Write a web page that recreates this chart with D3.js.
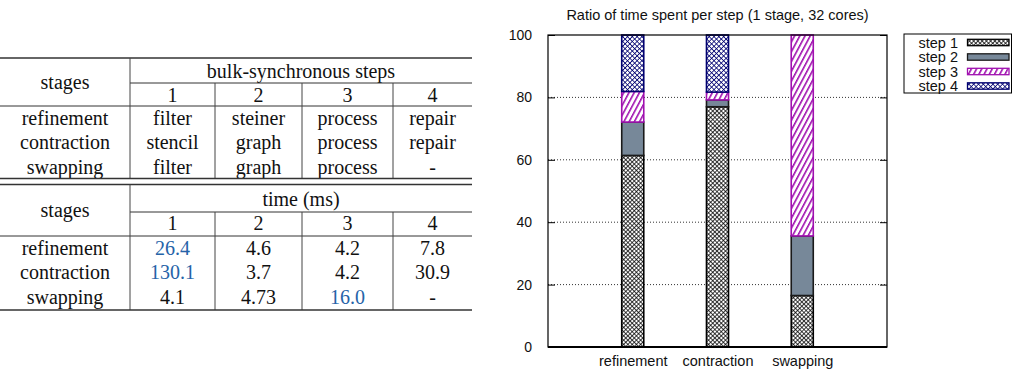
<!doctype html>
<html lang="en">
<head>
<meta charset="UTF-8">
<title>steps table and ratio chart</title>
<script src="https://d3js.org/d3.v7.min.js"></script>
<style>
  html, body { margin: 0; padding: 0; background: #fff; }
</style>
</head>
<body>
<script>
  // ---- data ----
  var stages = ["refinement", "contraction", "swapping"];
  var stepNums = ["1", "2", "3", "4"];
  var stepNames = [
    ["filter", "steiner", "process", "repair"],
    ["stencil", "graph", "process", "repair"],
    ["filter", "graph", "process", "-"]
  ];
  var timeLabels = [
    ["26.4", "4.6", "4.2", "7.8"],
    ["130.1", "3.7", "4.2", "30.9"],
    ["4.1", "4.73", "16.0", "-"]
  ];
  var timeHighlight = [
    [true, false, false, false],
    [true, false, false, false],
    [false, false, true, false]
  ];
  // ratio (%) per step, one array per step, in stage order
  var step1 = [61.4, 77.0, 16.5];
  var step2 = [10.7, 2.2, 19.1];
  var step3 = [9.8, 2.5, 64.4];
  var step4 = [18.1, 18.3, 0];
  var seriesNames = ["step 1", "step 2", "step 3", "step 4"];
  var yTicks = [0, 20, 40, 60, 80, 100];
  var chartTitle = "Ratio of time spent per step (1 stage, 32 cores)";

  var W = 1013, H = 372;
  var svg = d3.select("body").append("svg")
      .attr("width", W)
      .attr("height", H)
      .style("display", "block");
  svg.append("rect").attr("width", W).attr("height", H).attr("fill", "#fff");

  // ---- table ----
  var serif = "'Liberation Serif', 'Times New Roman', serif";
  var colX = [65, 172.5, 258.5, 347.5, 432.5];   // centers: stage column + 4 step columns
  var tbl = svg.append("g").attr("font-family", serif).attr("font-size", "20px").attr("fill", "#111");

  function hline(yy, x1, x2, w) {
    tbl.append("line").attr("x1", x1).attr("x2", x2).attr("y1", yy).attr("y2", yy)
        .attr("stroke", "#333").attr("stroke-width", w);
  }
  function vline(xx, y1, y2) {
    tbl.append("line").attr("x1", xx).attr("x2", xx).attr("y1", y1).attr("y2", y2)
        .attr("stroke", "#444").attr("stroke-width", 1);
  }
  function txt(xx, yy, s, color) {
    tbl.append("text").attr("x", xx).attr("y", yy).attr("dy", "0.33em")
        .attr("text-anchor", "middle").attr("fill", color || "#111").text(s);
  }

  // L: [top rule, group header, partial rule, step numbers, separator, row0, row1, row2, bottom rule]
  function drawTable(L, header, rows, colors) {
    hline(L[0], 0, 472, 1.7);
    txt(colX[0], (L[0] + L[4]) / 2, "stages");
    txt((130 + 472) / 2, L[1], header);
    hline(L[2], 130, 472, 1);
    stepNums.forEach(function(n, i) { txt(colX[i + 1], L[3], n); });
    hline(L[4], 0, 472, 1);
    vline(130, L[0], L[8]);
    [215, 302, 393].forEach(function(xx) { vline(xx, L[2], L[8]); });
    stages.forEach(function(s, r) {
      var yy = L[5 + r];
      txt(colX[0], yy, s);
      rows[r].forEach(function(v, c) {
        txt(colX[c + 1], yy, v, colors && colors[r][c] ? "#2563a8" : "#111");
      });
    });
    hline(L[8], 0, 472, 1.7);
  }
  drawTable([58, 71, 83, 95, 106, 118, 142.5, 167, 178.5], "bulk-synchronous steps", stepNames, null);
  drawTable([184.5, 199.5, 212, 223.5, 236, 248, 272.5, 297, 310], "time (ms)", timeLabels, timeHighlight);

  // ---- chart ----
  var sans = "'Liberation Sans', Arial, Helvetica, sans-serif";
  var plotL = 548, plotR = 887, plotT = 35, plotB = 347;
  var x = d3.scaleLinear().domain([0, stages.length + 1]).range([plotL, plotR]);
  var y = d3.scaleLinear().domain([0, 100]).range([plotB, plotT]);
  var barW = x(0.26) - x(0);

  var defs = svg.append("defs");
  function crosshatch(id, color, s, sw) {
    var p = defs.append("pattern").attr("id", id).attr("patternUnits", "userSpaceOnUse")
        .attr("width", s).attr("height", s).attr("patternTransform", "rotate(45)");
    p.append("rect").attr("width", s).attr("height", s).attr("fill", "#fff");
    p.append("line").attr("x1", 0).attr("x2", s).attr("y1", 0).attr("y2", 0)
        .attr("stroke", color).attr("stroke-width", sw);
    p.append("line").attr("x1", 0).attr("x2", 0).attr("y1", 0).attr("y2", s)
        .attr("stroke", color).attr("stroke-width", sw);
  }
  crosshatch("p1", "#000", 3, 1.5);
  crosshatch("p4", "#000070", 3.4, 1.6);
  var p3 = defs.append("pattern").attr("id", "p3").attr("patternUnits", "userSpaceOnUse")
      .attr("width", 4.6).attr("height", 4.6).attr("patternTransform", "rotate(28)");
  p3.append("rect").attr("width", 4.6).attr("height", 4.6).attr("fill", "#fff");
  p3.append("line").attr("x1", 0.8).attr("x2", 0.8).attr("y1", 0).attr("y2", 4.6)
      .attr("stroke", "#a010b0").attr("stroke-width", 1.6);

  var fills = ["url(#p1)", "#778899", "url(#p3)", "url(#p4)"];
  var strokes = ["#000", "#1a1a1a", "#a010b0", "#000070"];

  // title
  svg.append("text").attr("x", (plotL + plotR) / 2).attr("y", 15).attr("dy", "0.35em")
      .attr("text-anchor", "middle").attr("font-family", sans).attr("font-size", "14.5px")
      .attr("fill", "#111").text(chartTitle);

  // grid
  var chart = svg.append("g").attr("font-family", sans);
  chart.selectAll(".grid").data(yTicks.slice(1, -1)).enter().append("line")
      .attr("x1", plotL).attr("x2", plotR)
      .attr("y1", function(d) { return y(d); }).attr("y2", function(d) { return y(d); })
      .attr("stroke", "#333").attr("stroke-width", 1).attr("stroke-dasharray", "1,2");

  // bars
  var rowsData = stages.map(function(s, i) {
    return { stage: s, i: i, s0: step1[i], s1: step2[i], s2: step3[i], s3: step4[i] };
  });
  var layers = d3.stack().keys(["s0", "s1", "s2", "s3"])(rowsData);
  chart.selectAll(".layer").data(layers).enter().append("g")
      .attr("fill", function(d, k) { return fills[k]; })
      .attr("stroke", function(d, k) { return strokes[k]; })
      .attr("stroke-width", 1.6)
      .selectAll("rect").data(function(d) { return d.filter(function(e) { return e[1] - e[0] > 0; }); })
      .enter().append("rect")
      .attr("x", function(d) { return x(d.data.i + 1) - barW / 2; })
      .attr("width", barW)
      .attr("y", function(d) { return y(d[1]); })
      .attr("height", function(d) { return y(d[0]) - y(d[1]); });

  // frame
  chart.append("rect").attr("x", plotL).attr("y", plotT).attr("width", plotR - plotL).attr("height", plotB - plotT)
      .attr("fill", "none").attr("stroke", "#000").attr("stroke-width", 1.2);
  chart.append("line").attr("x1", plotL).attr("x2", plotR).attr("y1", plotB).attr("y2", plotB)
      .attr("stroke", "#000").attr("stroke-width", 2);

  // y axis (inward ticks on both sides)
  var yAxis = d3.axisLeft(y).tickValues(yTicks).tickSize(-7).tickPadding(16);
  var ya = chart.append("g").attr("transform", "translate(" + plotL + ",0)").call(yAxis);
  ya.select(".domain").remove();
  ya.selectAll("line").attr("stroke", "#000");
  ya.selectAll("text").attr("font-family", sans).attr("font-size", "14px").attr("fill", "#111");
  var yAxisR = d3.axisRight(y).tickValues(yTicks).tickSize(-7).tickFormat("");
  var yr = chart.append("g").attr("transform", "translate(" + plotR + ",0)").call(yAxisR);
  yr.select(".domain").remove();
  yr.selectAll("line").attr("stroke", "#000");

  // x labels
  var xAxis = d3.axisBottom(x).tickValues(stages.map(function(s, i) { return i + 1; }))
      .tickFormat(function(d) { return stages[d - 1]; }).tickSize(0).tickPadding(9);
  var xa = chart.append("g").attr("transform", "translate(0," + plotB + ")").call(xAxis);
  xa.select(".domain").remove();
  xa.selectAll("text").attr("font-family", sans).attr("font-size", "14.5px").attr("fill", "#111");

  // legend
  var lg = svg.append("g").attr("font-family", sans).attr("font-size", "14.5px");
  lg.append("rect").attr("x", 904).attr("y", 34).attr("width", 107.5).attr("height", 59)
      .attr("fill", "#fff").attr("stroke", "#000").attr("stroke-width", 1);
  var items = lg.selectAll(".item").data(seriesNames).enter().append("g")
      .attr("transform", function(d, i) { return "translate(0," + (42.5 + i * 14.5) + ")"; });
  items.append("text").attr("x", 958).attr("dy", "0.35em").attr("text-anchor", "end")
      .attr("fill", "#111").text(function(d) { return d; });
  items.append("rect").attr("x", 967.5).attr("y", -3.2).attr("width", 41.5).attr("height", 6.4)
      .attr("fill", function(d, i) { return fills[i]; })
      .attr("stroke", function(d, i) { return strokes[i]; }).attr("stroke-width", 1.3);
</script>
</body>
</html>
